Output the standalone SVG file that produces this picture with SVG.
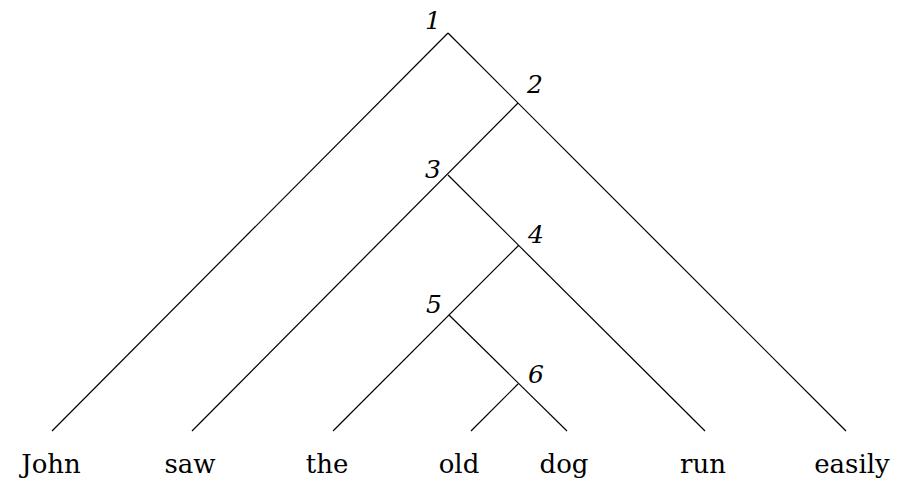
<svg xmlns="http://www.w3.org/2000/svg" width="907" height="482" viewBox="0 0 907 482">
<style>
.e{stroke:#000;stroke-width:1.2;fill:none;stroke-linecap:butt}
.n{font-family:'DejaVu Serif',serif;font-style:italic;font-size:25px;text-anchor:middle;fill:#000}
.w{font-family:'DejaVu Serif',serif;font-size:26px;text-anchor:middle;fill:#000}
</style>
<rect width="907" height="482" fill="#fff"/>
<g id="connectors">
<line class="e" x1="448" y1="33" x2="52" y2="431"/>
<line class="e" x1="448" y1="33" x2="846" y2="431"/>
<line class="e" x1="518" y1="103" x2="192" y2="431"/>
<line class="e" x1="448" y1="175" x2="705" y2="431"/>
<line class="e" x1="518.5" y1="245.5" x2="333" y2="431"/>
<line class="e" x1="449" y1="315" x2="567" y2="431"/>
<line class="e" x1="518" y1="384" x2="471" y2="431"/>
</g>
<g id="n1"><text class="n" x="433" y="29">1</text></g>
<g id="n2"><text class="n" x="535" y="93">2</text></g>
<g id="n3"><text class="n" x="433" y="178">3</text></g>
<g id="n4"><text class="n" x="536" y="243">4</text></g>
<g id="n5"><text class="n" x="434" y="313">5</text></g>
<g id="n6"><text class="n" x="536" y="383">6</text></g>
<g id="john"><text class="w" x="51" y="473">John</text></g>
<g id="saw"><text class="w" x="190" y="473">saw</text></g>
<g id="the"><text class="w" x="327" y="473">the</text></g>
<g id="old"><text class="w" x="459" y="473">old</text></g>
<g id="dog"><text class="w" x="564" y="473">dog</text></g>
<g id="run"><text class="w" x="703" y="473">run</text></g>
<g id="easily"><text class="w" x="852" y="473">easily</text></g>
</svg>
